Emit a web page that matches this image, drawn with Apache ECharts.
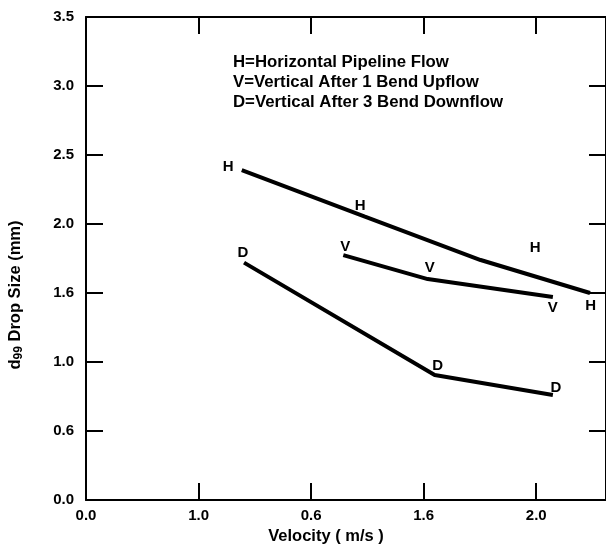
<!DOCTYPE html>
<html>
<head>
<meta charset="utf-8">
<script src="https://cdn.jsdelivr.net/npm/echarts@6/dist/echarts.min.js"></script>
<style>
html,body{margin:0;padding:0;background:#fff;}
#chart{width:606px;height:559px;}
</style>
</head>
<body>
<div id="chart"></div>
<script>
// Tick labels as printed on the figure
var xTickValues = [0, 0.5, 1.0, 1.5, 2.0];
var xTickLabels = ['0.0', '1.0', '0.6', '1.6', '2.0'];
var yTickValues = [0, 0.5, 1.0, 1.5, 2.0, 2.5, 3.0, 3.5];
var yTickLabels = ['0.0', '0.6', '1.0', '1.6', '2.0', '2.5', '3.0', '3.5'];

// Curves (velocity, d99)
var hLine = [[0.692, 2.39], [1.239, 2.053], [1.753, 1.739], [2.239, 1.50]];
var vLine = [[1.143, 1.775], [1.518, 1.601], [2.074, 1.471]];
var dLine = [[0.702, 1.72], [1.549, 0.906], [2.074, 0.761]];

// Letter markers
var hMarks = [[0.631, 2.413], [1.218, 2.130], [1.995, 1.826], [2.242, 1.406]];
var vMarks = [[1.152, 1.833], [1.527, 1.681], [2.074, 1.391]];
var dMarks = [[0.697, 1.790], [1.562, 0.971], [2.087, 0.812]];

var legendLines = [
  'H=Horizontal Pipeline Flow',
  'V=Vertical After 1 Bend Upflow',
  'D=Vertical After 3 Bend Downflow'
];
var xTitle = 'Velocity ( m/s )';

var FONT = '"Liberation Sans", Arial, sans-serif';

function lookup(vals, labels, v) {
  for (var i = 0; i < vals.length; i++) {
    if (Math.abs(vals[i] - v) < 1e-6) return labels[i];
  }
  return '';
}

function lineSeries(data) {
  return {
    type: 'line', data: data, symbol: 'none', silent: true,
    lineStyle: {color: '#000', width: 4}, z: 3
  };
}
function markSeries(data, letter) {
  return {
    type: 'scatter', data: data, symbolSize: 0, silent: true, z: 4,
    itemStyle: {opacity: 1, color: '#000'},
    label: {
      show: true, position: 'inside', formatter: letter,
      fontFamily: FONT, fontWeight: 'bold', fontSize: 15, color: '#000',
      opacity: 1, textBorderWidth: 0
    }
  };
}

var chart = echarts.init(document.getElementById('chart'), null, {renderer: 'canvas'});
var axisLine = {show: true, onZero: false, lineStyle: {color: '#000', width: 2}};
var axisTick = {show: true, inside: true, length: 17, lineStyle: {color: '#000', width: 2}};

chart.setOption({
  animation: false,
  backgroundColor: '#fff',
  grid: {left: 86, top: 17, width: 524, height: 483, containLabel: false},
  xAxis: [{
    type: 'value', min: 0, max: 2.31, interval: 0.5, position: 'bottom',
    axisLine: axisLine, axisTick: axisTick, splitLine: {show: false},
    axisLabel: {
      margin: 8, fontFamily: FONT, fontWeight: 'bold', fontSize: 15, color: '#000',
      showMaxLabel: false,
      formatter: function (v) { return lookup(xTickValues, xTickLabels, v); }
    }
  }, {
    type: 'value', min: 0, max: 2.31, interval: 0.5, position: 'top',
    axisLine: axisLine, axisTick: axisTick, splitLine: {show: false},
    axisLabel: {show: false}
  }],
  yAxis: [{
    type: 'value', min: 0, max: 3.5, interval: 0.5, position: 'left',
    axisLine: axisLine, axisTick: axisTick, splitLine: {show: false},
    axisLabel: {
      margin: 12, fontFamily: FONT, fontWeight: 'bold', fontSize: 15, color: '#000',
      formatter: function (v) { return lookup(yTickValues, yTickLabels, v); }
    }
  }, {
    type: 'value', min: 0, max: 3.5, interval: 0.5, position: 'right',
    axisLine: axisLine, axisTick: axisTick, splitLine: {show: false},
    axisLabel: {show: false}
  }],
  graphic: [
    {
      type: 'text', left: 233, top: 52,
      style: {
        text: legendLines.join('\n'), fontFamily: FONT, fontSize: 16.8,
        fontWeight: 'bold', lineHeight: 20, fill: '#000'
      }
    },
    {
      type: 'text', x: 326, y: 536,
      style: {
        text: xTitle, fontFamily: FONT, fontSize: 16.5, fontWeight: 'bold', fill: '#000',
        align: 'center', verticalAlign: 'middle'
      }
    },
    {
      type: 'text', x: 15, y: 295, rotation: Math.PI / 2,
      style: {
        text: '{a|d}{s|99}{a| Drop Size (mm)}',
        align: 'center', verticalAlign: 'middle',
        rich: {
          a: {fontFamily: FONT, fontSize: 16.5, fontWeight: 'bold', color: '#000'},
          s: {fontFamily: FONT, fontSize: 12, fontWeight: 'bold', color: '#000', padding: [8, 0, 0, 0]}
        }
      }
    }
  ],
  series: [
    lineSeries(hLine), lineSeries(vLine), lineSeries(dLine),
    markSeries(hMarks, 'H'), markSeries(vMarks, 'V'), markSeries(dMarks, 'D')
  ]
});
</script>
</body>
</html>
